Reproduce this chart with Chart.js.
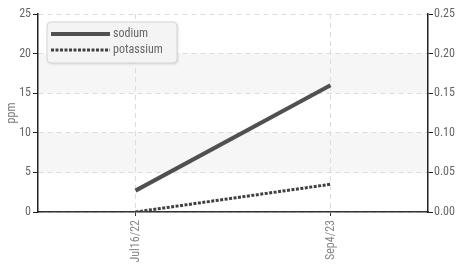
<!DOCTYPE html>
<html>
<head>
<meta charset="utf-8">
<script src="https://cdn.jsdelivr.net/npm/chart.js@4"></script>
<style>
  html, body { margin: 0; padding: 0; background: #fff; }
  #wrap { width: 457px; height: 269px; }
</style>
</head>
<body>
<div id="wrap"><canvas id="myChart" width="457" height="269"></canvas></div>
<script>
const fechas = ['Jul16/22', 'Sep4/23'];
const sodium = [2.7, 16];
const potassium = [0, 0.035];
const bandas = [[5, 10], [15, 20]];

const FONT = "'Roboto Condensed', 'DejaVu Sans Condensed', Roboto, sans-serif";
Chart.defaults.font.family = FONT;
Chart.defaults.font.size = 12;
Chart.defaults.color = '#666';

// franjas grises del fondo
const bandPlugin = {
    id: 'bandas',
    beforeDraw(chart) {
        const { ctx, chartArea } = chart;
        const y = chart.scales.y;
        ctx.save();
        ctx.fillStyle = '#f6f6f6';
        for (const b of bandas) {
            const top = y.getPixelForValue(b[1]);
            const bot = y.getPixelForValue(b[0]);
            ctx.fillRect(chartArea.left, top, chartArea.right - chartArea.left, bot - top);
        }
        ctx.restore();
    }
};

// leyenda dentro del area
const legendPlugin = {
    id: 'leyendaDentro',
    afterDraw(chart) {
        const { ctx, chartArea } = chart;
        const x = chartArea.left + 9, y = chartArea.top + 8, w = 130, h = 41;
        ctx.save();
        ctx.shadowColor = 'rgba(0,0,0,0.15)';
        ctx.shadowBlur = 3;
        ctx.shadowOffsetX = 1;
        ctx.shadowOffsetY = 1;
        ctx.beginPath();
        ctx.roundRect(x, y, w, h, 4);
        ctx.fillStyle = '#f4f4f4';
        ctx.fill();
        ctx.shadowColor = 'transparent';
        ctx.strokeStyle = '#d4d4d4';
        ctx.lineWidth = 1;
        ctx.stroke();
        chart.data.datasets.forEach((ds, i) => {
            const ly = y + 12 + i * 16;
            ctx.beginPath();
            ctx.setLineDash(ds.borderDash || []);
            ctx.strokeStyle = ds.borderColor;
            ctx.lineWidth = ds.borderWidth;
            ctx.moveTo(x + 4, ly);
            ctx.lineTo(x + 63, ly);
            ctx.stroke();
            ctx.setLineDash([]);
            ctx.fillStyle = '#666';
            ctx.font = '12px ' + FONT;
            ctx.textBaseline = 'middle';
            ctx.fillText(ds.label, x + 66, ly);
        });
        ctx.restore();
    }
};

new Chart(document.getElementById('myChart'), {
    type: 'line',
    data: {
        labels: fechas,
        datasets: [
            {
                label: 'sodium',
                data: sodium,
                yAxisID: 'y',
                borderColor: '#505050',
                borderWidth: 4,
                pointRadius: 0,
                tension: 0,
            },
            {
                label: 'potassium',
                data: potassium,
                yAxisID: 'y1',
                borderColor: '#404040',
                borderWidth: 3,
                borderDash: [3, 1.5],
                pointRadius: 0,
                tension: 0,
            },
        ],
    },
    options: {
        responsive: false,
        animation: false,
        layout: { padding: { top: 14, left: 0, right: 0, bottom: 0 } },
        plugins: { legend: { display: false }, tooltip: { enabled: false } },
        scales: {
            x: {
                offset: true,
                grid: {
                    offset: false,
                    color: '#dcdcdc',
                    tickColor: '#333',
                    tickLength: 4,
                    tickBorderDash: [],
                },
                border: { color: '#333', dash: [5, 4], width: 1.5 },
                ticks: { minRotation: 90, maxRotation: 90, padding: 4, color: '#888' },
                afterFit(s) { s.height = 57; },
            },
            y: {
                position: 'left',
                min: 0,
                max: 25,
                ticks: { stepSize: 5, padding: 2 },
                grid: {
                    color: '#dcdcdc',
                    tickColor: '#222',
                    tickLength: 5,
                    tickBorderDash: [],
                },
                border: { color: '#222', dash: [5, 4], width: 1.5 },
                title: { display: true, text: 'ppm', padding: { top: 5, bottom: 0 }, color: '#777' },
                afterFit(s) { s.width = 38; },
            },
            y1: {
                position: 'right',
                min: 0,
                max: 0.25,
                ticks: { stepSize: 0.05, padding: 1, callback: (v) => v.toFixed(2) },
                grid: { drawOnChartArea: false, tickColor: '#222', tickLength: 5 },
                border: { color: '#222', width: 1.5 },
                afterFit(s) { s.width = 29; },
            },
        },
    },
    plugins: [bandPlugin, legendPlugin],
});
</script>
</body>
</html>
